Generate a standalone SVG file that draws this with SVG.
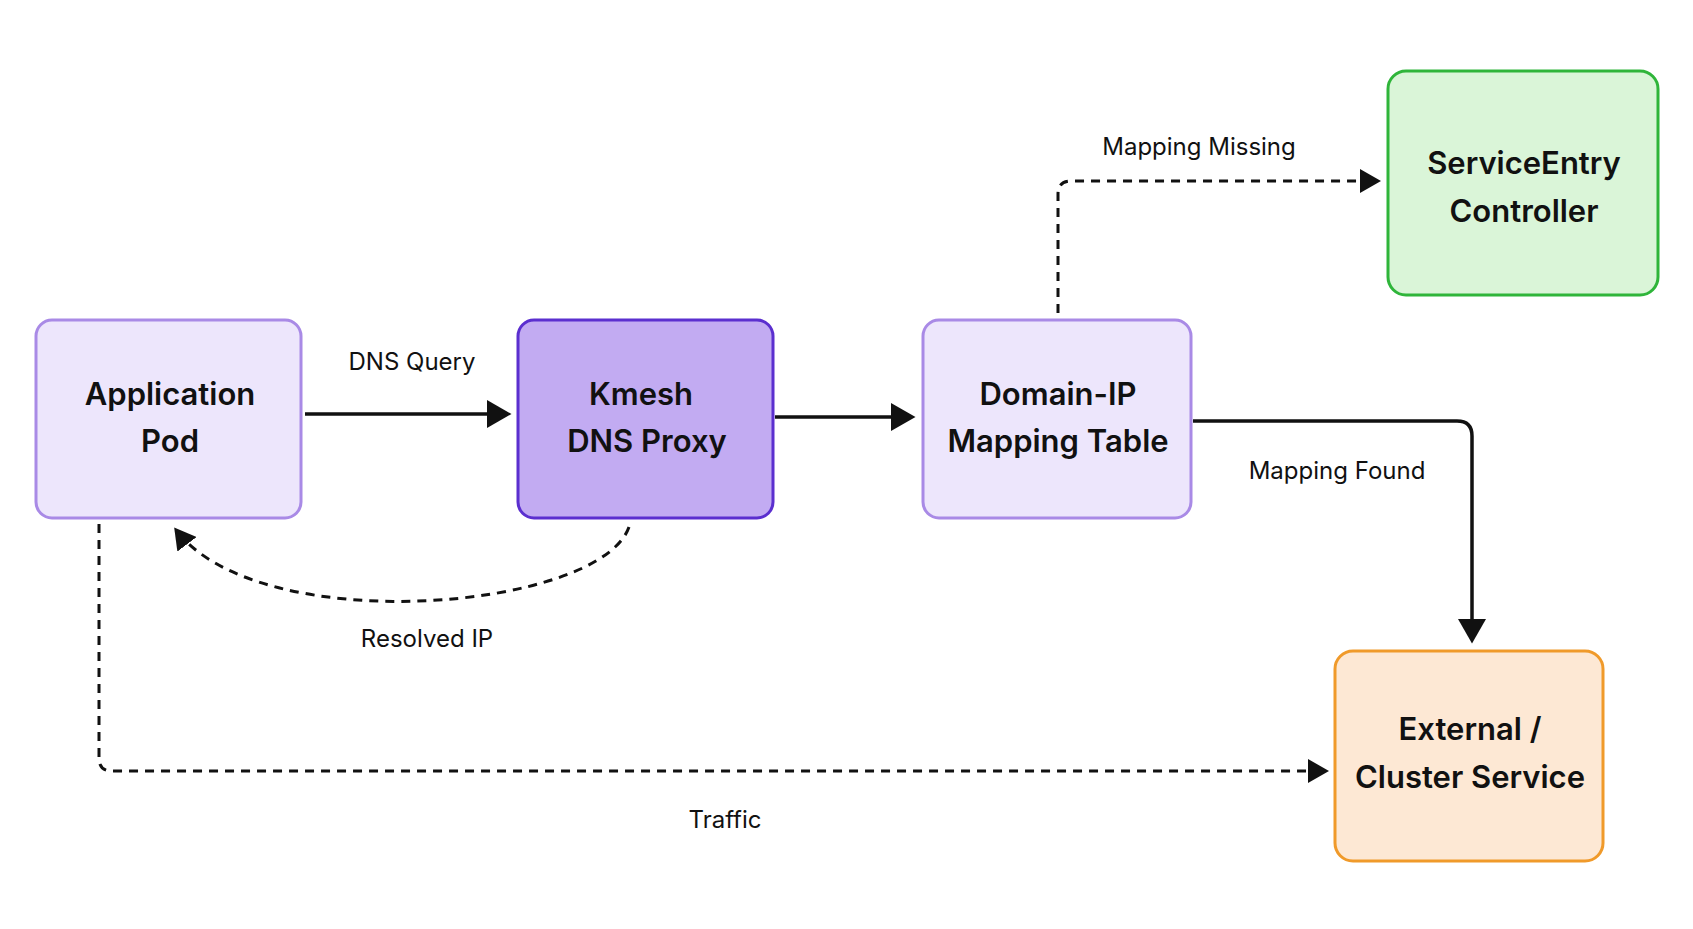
<svg xmlns="http://www.w3.org/2000/svg" width="1693" height="929" viewBox="0 0 1693 929">
<style>
.n{stroke-width:3}
.t{font-family:"Inter","Liberation Sans",sans-serif;font-size:31px;font-weight:600;fill:#111;text-anchor:middle}
.l{font-family:"Inter","Liberation Sans",sans-serif;font-size:24px;fill:#111;text-anchor:middle}
.c{fill:none;stroke:#111;stroke-width:3.5}
.d{stroke-dasharray:9 7;stroke-width:3}
</style>
<defs>
<marker id="a" markerWidth="8" markerHeight="8" refX="6" refY="4" orient="auto" markerUnits="strokeWidth"><path d="M0,0 L7,4 L0,8 z" fill="#111"/></marker>
</defs>
<rect width="1693" height="929" fill="#fff"/>
<g id="connectors">
<path class="c" d="M305,414 H508" marker-end="url(#a)"/>
<path class="c" d="M775,417 H912" marker-end="url(#a)"/>
<path class="c" d="M1193,421 H1457 Q1472,421 1472,436 V640" marker-end="url(#a)"/>
<path class="c d" d="M1058,313 V194 Q1058,181 1071,181 H1378" marker-end="url(#a)"/>
<path class="c d" d="M629,527 C600,610 260,640 176,530" marker-end="url(#a)"/>
<path class="c d" d="M99,524 V758 Q99,771 112,771 H1326" marker-end="url(#a)"/>
<text class="l" x="412" y="370">DNS Query</text>
<text class="l" x="1199" y="155">Mapping Missing</text>
<text class="l" x="1337" y="479">Mapping Found</text>
<text class="l" x="427" y="647">Resolved IP</text>
<text class="l" x="725" y="828">Traffic</text>
</g>
<g id="app"><rect class="n" x="36" y="320" width="265" height="198" rx="16" fill="#ede6fc" stroke="#a98ae6"/>
<text class="t" x="170" y="405">Application</text><text class="t" x="170" y="452">Pod</text></g>
<g id="kmesh"><rect class="n" x="518" y="320" width="255" height="198" rx="16" fill="#c2abf2" stroke="#5b2fcf"/>
<text class="t" x="641" y="405">Kmesh</text><text class="t" x="647" y="452">DNS Proxy</text></g>
<g id="domain"><rect class="n" x="923" y="320" width="268" height="198" rx="16" fill="#ede6fc" stroke="#a98ae6"/>
<text class="t" x="1058" y="405">Domain-IP</text><text class="t" x="1058" y="452">Mapping Table</text></g>
<g id="se"><rect class="n" x="1388" y="71" width="270" height="224" rx="18" fill="#daf5d8" stroke="#2fb53a"/>
<text class="t" x="1524" y="174">ServiceEntry</text><text class="t" x="1524" y="222">Controller</text></g>
<g id="ext"><rect class="n" x="1335" y="651" width="268" height="210" rx="18" fill="#fde8d4" stroke="#f09a2a"/>
<text class="t" x="1470" y="740">External /</text><text class="t" x="1470" y="788">Cluster Service</text></g>
</svg>
